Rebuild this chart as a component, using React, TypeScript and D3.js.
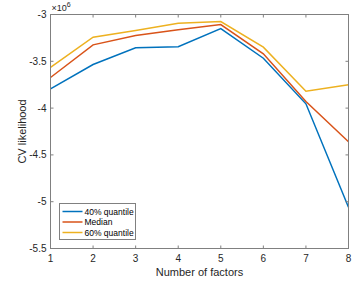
import * as d3 from 'd3';

const factors = [1, 2, 3, 4, 5, 6, 7, 8];
const q40 = [-3.794, -3.534, -3.356, -3.345, -3.15, -3.467, -3.954, -5.06];
const median = [-3.673, -3.324, -3.224, -3.164, -3.107, -3.42, -3.93, -4.36];
const q60 = [-3.566, -3.242, -3.17, -3.093, -3.075, -3.349, -3.819, -3.751];
const seriesNames = ['40% quantile', 'Median', '60% quantile'];
const seriesColors = ['#0072BD', '#D95319', '#EDB120'];
const yTicks = [-3, -3.5, -4, -4.5, -5, -5.5];

const W = 359;
const H = 281;
const m = { left: 50.5, right: 10.5, top: 14.5, bottom: 32.5 };
const font = 'Liberation Sans, Arial, Helvetica, sans-serif';

export default function App() {
    const x = d3.scaleLinear().domain([1, 8]).range([m.left, W - m.right]);
    const y = d3.scaleLinear().domain([-5.5, -3]).range([H - m.bottom, m.top]);
    const line = d3
        .line<number>()
        .x((_, i) => x(factors[i]))
        .y((d) => y(d));
    const all = [q40, median, q60];
    const x0 = m.left;
    const x1 = W - m.right;
    const y0 = H - m.bottom;
    const y1 = m.top;
    const axisColor = '#808080';
    const textColor = '#262626';
    const tickLen = 3;

    return (
        <svg
            width={W}
            height={H}
            style={{ position: 'absolute', left: 0, top: 0, background: '#fff' }}
            fontFamily={font}
        >
            {all.map((s, i) => (
                <path key={i} d={line(s) ?? ''} fill="none" stroke={seriesColors[i]} strokeWidth={1.5} />
            ))}
            {/* box */}
            <rect x={x0} y={y1} width={x1 - x0} height={y0 - y1} fill="none" stroke={axisColor} strokeWidth={1} />
            {factors.map((f) => (
                <g key={f}>
                    <line x1={x(f)} x2={x(f)} y1={y0} y2={y0 - tickLen} stroke={axisColor} strokeWidth={1} />
                    <line x1={x(f)} x2={x(f)} y1={y1} y2={y1 + tickLen} stroke={axisColor} strokeWidth={1} />
                    <text x={x(f)} y={y0 + 13} fontSize={10} textAnchor="middle" fill={textColor}>
                        {f}
                    </text>
                </g>
            ))}
            {yTicks.map((t) => (
                <g key={t}>
                    <line x1={x0} x2={x0 + tickLen} y1={y(t)} y2={y(t)} stroke={axisColor} strokeWidth={1} />
                    <line x1={x1} x2={x1 - tickLen} y1={y(t)} y2={y(t)} stroke={axisColor} strokeWidth={1} />
                    <text x={x0 - 4} y={y(t) + 3.5} fontSize={10} textAnchor="end" fill={textColor}>
                        {t}
                    </text>
                </g>
            ))}
            <text x={x0 + 1} y={y1 - 4} fontSize={9} fill={textColor}>
                ×10
                <tspan fontSize={7} dy={-4}>
                    6
                </tspan>
            </text>
            <text x={(x0 + x1) / 2} y={H - 5} fontSize={11} textAnchor="middle" fill={textColor}>
                Number of factors
            </text>
            <text
                transform={`translate(26,${(y0 + y1) / 2}) rotate(-90)`}
                fontSize={11}
                textAnchor="middle"
                fill={textColor}
            >
                CV likelihood
            </text>
            {/* legend */}
            <g transform="translate(59.5,203.5)">
                <rect x={0} y={0} width={76} height={36} fill="#fff" stroke={axisColor} strokeWidth={1} />
                {seriesNames.map((n, i) => (
                    <g key={n} transform={`translate(0,${8 + i * 10.5})`}>
                        <line x1={3} x2={23} y1={0} y2={0} stroke={seriesColors[i]} strokeWidth={1.5} />
                        <text x={25} y={3} fontSize={8.5} fill="#000">
                            {n}
                        </text>
                    </g>
                ))}
            </g>
        </svg>
    );
}
